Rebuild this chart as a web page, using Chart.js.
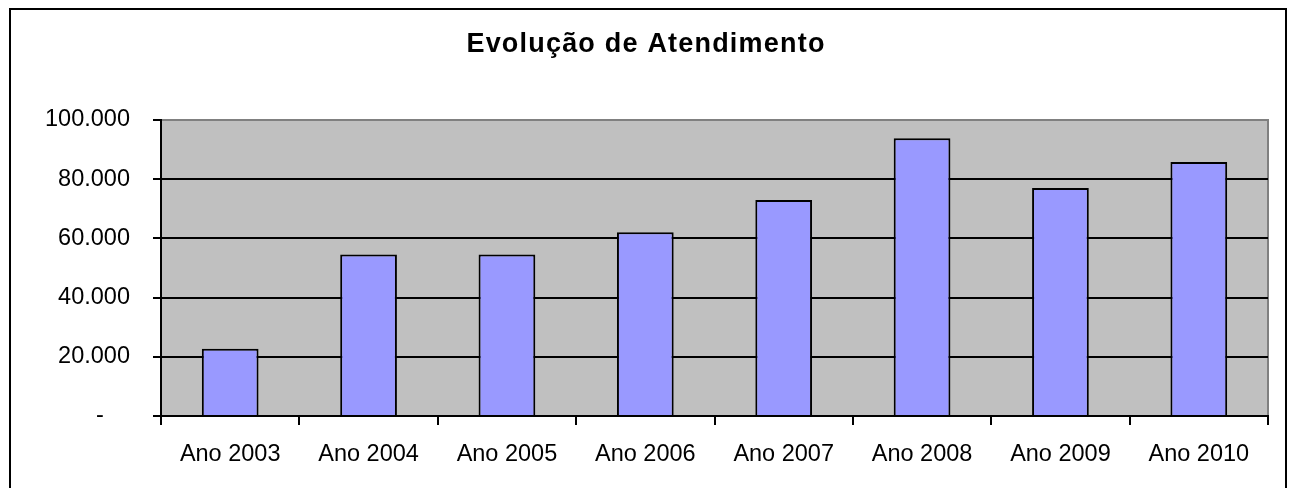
<!DOCTYPE html>
<html>
<head>
<meta charset="utf-8">
<script src="https://cdn.jsdelivr.net/npm/chart.js@4.4.0/dist/chart.umd.min.js"></script>
<style>
  html, body { margin: 0; padding: 0; background: #fff; overflow: hidden; }
  #frame { position: absolute; left: 9px; top: 8px; width: 1274px; height: 600px; border: 2px solid #000; }
  #myChart { position: absolute; left: 0; top: 0; }
</style>
</head>
<body>
<div id="frame"></div>
<canvas id="myChart" width="1296" height="488"></canvas>
<script>
  const chartTitle = 'Evolução de Atendimento';
  const categories = ['Ano 2003', 'Ano 2004', 'Ano 2005', 'Ano 2006', 'Ano 2007', 'Ano 2008', 'Ano 2009', 'Ano 2010'];
  const atendimentos = [22700, 54600, 54600, 62100, 73000, 93800, 77000, 85800];
  const yTickValues = [0, 20000, 40000, 60000, 80000, 100000];
  const yTickLabels = ['-    ', '20.000', '40.000', '60.000', '80.000', '100.000'];

  const fontFamily = "'Liberation Sans', Arial, sans-serif";

  // gray plot background + gray top/right edge, like the excel chart
  const plotArea = {
    id: 'plotArea',
    beforeDraw(chart) {
      const { ctx, chartArea: a } = chart;
      ctx.save();
      ctx.fillStyle = '#C0C0C0';
      ctx.fillRect(a.left, a.top, a.right - a.left, a.bottom - a.top);
      ctx.strokeStyle = '#808080';
      ctx.lineWidth = 2;
      ctx.beginPath();
      ctx.moveTo(a.left, a.top);
      ctx.lineTo(a.right, a.top);
      ctx.lineTo(a.right, a.bottom);
      ctx.stroke();
      ctx.restore();
    },
    afterDraw(chart) {
      // title drawn here so it can get the wide letter spacing
      const ctx = chart.ctx;
      ctx.save();
      ctx.font = 'bold 27px ' + fontFamily;
      ctx.letterSpacing = '1.2px';
      ctx.fillStyle = '#000';
      ctx.textAlign = 'center';
      ctx.textBaseline = 'alphabetic';
      ctx.fillText(chartTitle, 646, 52);
      ctx.restore();
    }
  };

  const ctx = document.getElementById('myChart').getContext('2d');
  new Chart(ctx, {
    type: 'bar',
    data: {
      labels: categories,
      datasets: [{
        data: atendimentos,
        backgroundColor: '#9999FF',
        borderColor: '#000',
        borderWidth: 2,
        barPercentage: 0.41,
        categoryPercentage: 1
      }]
    },
    options: {
      responsive: false,
      animation: false,
      layout: { padding: { top: 120, right: 28, left: 0, bottom: 0 } },
      plugins: {
        legend: { display: false },
        title: { display: false },
        tooltip: { enabled: false }
      },
      scales: {
        x: {
          afterFit: (scale) => { scale.height = 72; },
          grid: { display: true, drawOnChartArea: false, tickLength: 9, color: '#000', lineWidth: 2 },
          border: { display: true, color: '#000', width: 2 },
          ticks: { color: '#000', padding: 15, font: { family: fontFamily, size: 23.5 } }
        },
        y: {
          min: 0,
          max: 100000,
          afterFit: (scale) => { scale.width = 161; },
          afterBuildTicks: (scale) => { scale.ticks = yTickValues.map(v => ({ value: v })); },
          grid: {
            tickLength: 8,
            lineWidth: 2,
            color: (c) => c.tick && c.tick.value === 100000 ? '#808080' : '#000',
            tickColor: '#000'
          },
          border: { display: true, color: '#000', width: 2 },
          ticks: {
            color: '#000',
            padding: 23,
            font: { family: fontFamily, size: 23.5 },
            callback: (value) => yTickLabels[yTickValues.indexOf(value)]
          }
        }
      }
    },
    plugins: [plotArea]
  });
</script>
</body>
</html>
